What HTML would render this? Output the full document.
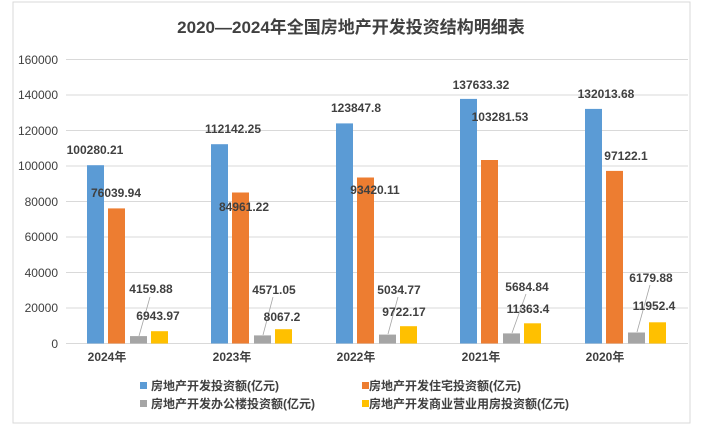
<!DOCTYPE html><html><head><meta charset="utf-8"><style>body{margin:0;background:#fff}svg text{font-family:"Liberation Sans","Noto Sans CJK SC",sans-serif;fill:#404040}</style></head><body>
<svg width="703" height="435" xmlns="http://www.w3.org/2000/svg">
<rect x="13" y="2" width="677" height="421" fill="#fff" stroke="#d9d9d9"/>
<text x="351" y="33" font-size="17" font-weight="bold" text-anchor="middle" fill="#333">2020—2024年全国房地产开发投资结构明细表</text>
<g stroke="#d9d9d9" stroke-width="1">
<line x1="66" x2="688" y1="59.5" y2="59.5"/><line x1="66" x2="688" y1="95" y2="95"/><line x1="66" x2="688" y1="130.5" y2="130.5"/><line x1="66" x2="688" y1="166" y2="166"/><line x1="66" x2="688" y1="201.5" y2="201.5"/><line x1="66" x2="688" y1="237" y2="237"/><line x1="66" x2="688" y1="272.5" y2="272.5"/><line x1="66" x2="688" y1="308" y2="308"/><line x1="66" x2="688" y1="343.5" y2="343.5"/>
</g>
<g font-size="12" text-anchor="end"><text x="58" y="64">160000</text><text x="58" y="99">140000</text><text x="58" y="135">120000</text><text x="58" y="170">100000</text><text x="58" y="206">80000</text><text x="58" y="241">60000</text><text x="58" y="277">40000</text><text x="58" y="312">20000</text><text x="58" y="348">0</text></g>
<g id="bars"></g>
<g font-size="12" font-weight="bold" text-anchor="middle">
<text x="107" y="361">2024年</text><text x="232" y="361">2023年</text><text x="356" y="361">2022年</text><text x="481" y="361">2021年</text><text x="605" y="361">2020年</text>
</g>
<!-- bars -->
<g>
<rect x="87" y="165.2" width="17" height="178.3" fill="#5b9bd5"/><rect x="108" y="208.4" width="17" height="135.1" fill="#ed7d31"/><rect x="130" y="336.1" width="17" height="7.4" fill="#a5a5a5"/><rect x="151" y="331.2" width="17" height="12.3" fill="#ffc000"/>
<rect x="211" y="144.2" width="17" height="199.3" fill="#5b9bd5"/><rect x="232" y="192.5" width="17" height="151" fill="#ed7d31"/><rect x="254" y="335.4" width="17" height="8.1" fill="#a5a5a5"/><rect x="275" y="329.2" width="17" height="14.3" fill="#ffc000"/>
<rect x="336" y="123.4" width="17" height="220.1" fill="#5b9bd5"/><rect x="357" y="177.5" width="17" height="166" fill="#ed7d31"/><rect x="379" y="334.6" width="17" height="8.9" fill="#a5a5a5"/><rect x="400" y="326.2" width="17" height="17.3" fill="#ffc000"/>
<rect x="460" y="98.9" width="17" height="244.6" fill="#5b9bd5"/><rect x="481" y="160" width="17" height="183.5" fill="#ed7d31"/><rect x="503" y="333.4" width="17" height="10.1" fill="#a5a5a5"/><rect x="524" y="323.3" width="17" height="20.2" fill="#ffc000"/>
<rect x="585" y="108.9" width="17" height="234.6" fill="#5b9bd5"/><rect x="606" y="170.9" width="17" height="172.6" fill="#ed7d31"/><rect x="628" y="332.5" width="17" height="11" fill="#a5a5a5"/><rect x="649" y="322.3" width="17" height="21.2" fill="#ffc000"/>
</g>
<g stroke="#a5a5a5" stroke-width="0.8">
<line x1="150" y1="297" x2="139" y2="336"/><line x1="273" y1="297" x2="263" y2="335"/><line x1="398" y1="297" x2="388" y2="334"/><line x1="526" y1="294" x2="512" y2="333"/><line x1="650" y1="285" x2="637" y2="332"/>
</g>
<g font-size="12" font-weight="bold" text-anchor="middle">
<text x="95" y="154">100280.21</text><text x="116" y="197">76039.94</text><text x="151" y="293">4159.88</text><text x="158" y="320">6943.97</text>
<text x="233" y="133">112142.25</text><text x="244" y="211">84961.22</text><text x="274" y="294">4571.05</text><text x="282" y="321">8067.2</text>
<text x="356" y="112">123847.8</text><text x="375" y="194">93420.11</text><text x="399" y="294">5034.77</text><text x="404" y="316">9722.17</text>
<text x="481" y="89">137633.32</text><text x="500" y="121">103281.53</text><text x="527" y="291">5684.84</text><text x="528" y="313">11363.4</text>
<text x="606" y="98">132013.68</text><text x="626" y="160">97122.1</text><text x="651" y="282">6179.88</text><text x="654" y="310">11952.4</text>
</g>
<g font-size="12" font-weight="bold">
<rect x="140" y="382" width="7" height="7" fill="#5b9bd5"/><text x="151" y="390">房地产开发投资额(亿元)</text>
<rect x="362" y="382" width="7" height="7" fill="#ed7d31"/><text x="369" y="390">房地产开发住宅投资额(亿元)</text>
<rect x="140" y="400" width="7" height="7" fill="#a5a5a5"/><text x="151" y="408">房地产开发办公楼投资额(亿元)</text>
<rect x="362" y="400" width="7" height="7" fill="#ffc000"/><text x="369" y="408">房地产开发商业营业用房投资额(亿元)</text>
</g>
</svg></body></html>
